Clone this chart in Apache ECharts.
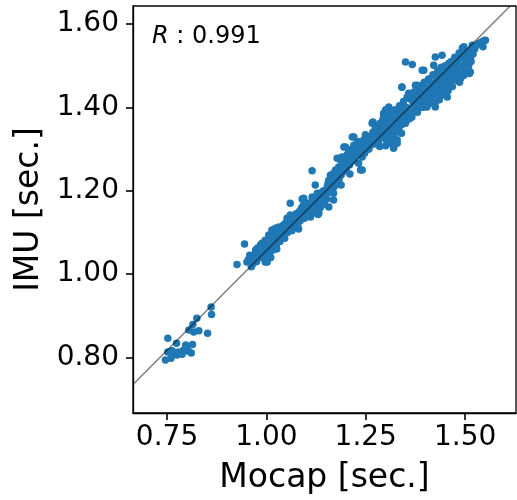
<!DOCTYPE html>
<html lang="en">
<head>
    <meta charset="UTF-8">
    <title>IMU vs Mocap</title>
    <script type="text/javascript" src="https://cdn.jsdelivr.net/npm/echarts@6/dist/echarts.min.js"></script>
</head>
<body style="margin:0;">
<div id="chart" style="width:517px;height:500px;"></div>
<script>
    // tick labels
    var xTicks = [0.75, 1.00, 1.25, 1.50];
    var yTicks = [0.80, 1.00, 1.20, 1.40, 1.60];
    var rValue = '0.991';

    // [mocap, imu] pairs
    var lowCluster = [
        [0.861, 0.921], [0.862, 0.903], [0.825, 0.894], [0.815, 0.879], [0.805, 0.866], [0.817, 0.861],
        [0.830, 0.864], [0.852, 0.858], [0.752, 0.846], [0.774, 0.834], [0.797, 0.830], [0.814, 0.831],
        [0.752, 0.813], [0.763, 0.816], [0.779, 0.813], [0.792, 0.818], [0.804, 0.815], [0.811, 0.811],
        [0.746, 0.794], [0.760, 0.798], [0.775, 0.806], [0.788, 0.808], [0.768, 0.811], [0.799, 0.822]
    ];
    var midCluster = [
        [0.926, 1.023], [0.945, 1.072], [0.951, 1.029], [0.960, 1.038], [0.964, 1.022], [0.966, 1.026],
        [0.972, 1.050], [0.977, 1.062], [0.985, 1.070], [0.989, 1.074], [0.997, 1.081], [0.997, 1.029],
        [0.955, 1.035], [0.958, 1.045], [0.968, 1.033], [0.970, 1.042], [0.975, 1.030], [0.980, 1.048],
        [0.982, 1.056], [0.987, 1.040], [0.990, 1.052], [0.993, 1.063], [0.995, 1.045], [0.962, 1.018],
        [0.978, 1.040], [0.999, 1.070], [0.986, 1.060], [0.973, 1.058],
        [1.002, 1.029], [1.006, 1.094], [1.014, 1.106], [1.018, 1.098], [1.023, 1.110], [1.031, 1.113],
        [1.039, 1.101], [1.043, 1.118], [1.052, 1.134], [1.060, 1.142], [1.065, 1.130], [1.060, 1.170],
        [1.003, 1.060], [1.005, 1.075], [1.008, 1.050], [1.010, 1.082], [1.012, 1.066], [1.015, 1.088],
        [1.017, 1.058], [1.020, 1.076], [1.022, 1.092], [1.025, 1.070], [1.027, 1.100], [1.029, 1.084],
        [1.032, 1.096], [1.034, 1.078], [1.036, 1.106], [1.038, 1.090], [1.041, 1.110], [1.044, 1.098],
        [1.046, 1.086], [1.048, 1.122], [1.050, 1.108], [1.053, 1.100], [1.055, 1.118], [1.057, 1.128],
        [1.059, 1.110], [1.062, 1.122], [1.064, 1.104], [1.067, 1.138], [1.069, 1.118], [1.011, 1.040],
        [1.026, 1.060],
        [1.073, 1.113], [1.077, 1.125], [1.086, 1.142], [1.094, 1.149], [1.098, 1.153], [1.111, 1.142],
        [1.116, 1.146], [1.123, 1.166], [1.132, 1.166], [1.090, 1.180], [1.157, 1.161], [1.115, 1.185],
        [1.130, 1.143], [1.111, 1.137], [1.115, 1.248], [1.094, 1.182], [1.123, 1.214], [1.128, 1.194],
        [1.140, 1.197], [1.148, 1.189], [1.153, 1.209], [1.132, 1.146], [1.111, 1.154], [1.123, 1.161],
        [1.072, 1.130], [1.075, 1.145], [1.079, 1.118], [1.081, 1.136], [1.083, 1.150], [1.085, 1.128],
        [1.088, 1.158], [1.091, 1.138], [1.093, 1.165], [1.096, 1.134], [1.100, 1.160], [1.102, 1.146],
        [1.104, 1.170], [1.106, 1.152], [1.108, 1.162], [1.113, 1.172], [1.118, 1.158], [1.120, 1.178],
        [1.125, 1.150], [1.127, 1.176], [1.130, 1.186], [1.134, 1.178], [1.136, 1.160], [1.138, 1.188],
        [1.142, 1.176], [1.144, 1.200], [1.146, 1.168], [1.150, 1.196], [1.152, 1.180], [1.155, 1.218],
        [1.158, 1.200], [1.081, 1.108]
    ];
    var highCluster = [
        [1.157, 1.225], [1.161, 1.237], [1.165, 1.218], [1.169, 1.242], [1.174, 1.250], [1.178, 1.233],
        [1.182, 1.257], [1.186, 1.274], [1.190, 1.281], [1.195, 1.305], [1.199, 1.266], [1.203, 1.286],
        [1.211, 1.298], [1.216, 1.329], [1.220, 1.309], [1.228, 1.302], [1.232, 1.266], [1.237, 1.250],
        [1.241, 1.281], [1.245, 1.322], [1.249, 1.334], [1.253, 1.298], [1.169, 1.178], [1.169, 1.194],
        [1.178, 1.278], [1.199, 1.305], [1.220, 1.329], [1.241, 1.250],
        [1.160, 1.210], [1.163, 1.196], [1.167, 1.228], [1.171, 1.210], [1.173, 1.232], [1.176, 1.220],
        [1.180, 1.244], [1.183, 1.228], [1.185, 1.250], [1.188, 1.238], [1.192, 1.262], [1.194, 1.246],
        [1.197, 1.276], [1.201, 1.252], [1.205, 1.270], [1.207, 1.295], [1.209, 1.262], [1.213, 1.282],
        [1.215, 1.270], [1.218, 1.294], [1.222, 1.280], [1.224, 1.300], [1.226, 1.286], [1.230, 1.318],
        [1.234, 1.292], [1.236, 1.310], [1.239, 1.296], [1.243, 1.306], [1.247, 1.290], [1.251, 1.312],
        [1.255, 1.320], [1.258, 1.300], [1.210, 1.240], [1.188, 1.214],
        [1.261, 1.309], [1.270, 1.329], [1.278, 1.338], [1.291, 1.329], [1.304, 1.334], [1.312, 1.314],
        [1.320, 1.305], [1.329, 1.322], [1.266, 1.362], [1.295, 1.386], [1.308, 1.401], [1.341, 1.449],
        [1.358, 1.434], [1.337, 1.393], [1.346, 1.369], [1.300, 1.394], [1.295, 1.381], [1.268, 1.365],
        [1.329, 1.314], [1.320, 1.302], [1.341, 1.448],
        [1.263, 1.330], [1.265, 1.318], [1.268, 1.340], [1.272, 1.312], [1.274, 1.350], [1.276, 1.326],
        [1.280, 1.356], [1.282, 1.318], [1.284, 1.340], [1.286, 1.362], [1.288, 1.330], [1.290, 1.348],
        [1.293, 1.370], [1.296, 1.338], [1.298, 1.356], [1.301, 1.322], [1.303, 1.366], [1.306, 1.346],
        [1.309, 1.378], [1.311, 1.338], [1.313, 1.360], [1.315, 1.388], [1.317, 1.330], [1.319, 1.372],
        [1.322, 1.352], [1.324, 1.394], [1.326, 1.340], [1.328, 1.366], [1.331, 1.382], [1.333, 1.350],
        [1.335, 1.404], [1.338, 1.372], [1.340, 1.358], [1.343, 1.390], [1.345, 1.414], [1.348, 1.380],
        [1.350, 1.362], [1.352, 1.400], [1.354, 1.424], [1.356, 1.386], [1.359, 1.372], [1.285, 1.306],
        [1.300, 1.308], [1.318, 1.318], [1.340, 1.338], [1.350, 1.509]
    ];
    var topCluster = [
        [1.367, 1.503], [1.375, 1.453], [1.379, 1.401], [1.392, 1.489], [1.413, 1.410], [1.425, 1.401],
        [1.434, 1.425], [1.367, 1.386], [1.404, 1.401], [1.413, 1.417], [1.450, 1.440], [1.396, 1.489],
        [1.425, 1.521], [1.442, 1.525], [1.421, 1.501], [1.455, 1.470], [1.438, 1.462], [1.421, 1.458],
        [1.404, 1.446], [1.379, 1.453], [1.371, 1.437], [1.388, 1.425], [1.413, 1.429], [1.446, 1.446],
        [1.425, 1.413], [1.455, 1.425],
        [1.362, 1.420], [1.365, 1.398], [1.369, 1.412], [1.372, 1.430], [1.374, 1.392], [1.377, 1.418],
        [1.381, 1.440], [1.383, 1.408], [1.385, 1.428], [1.387, 1.452], [1.390, 1.414], [1.393, 1.436],
        [1.395, 1.400], [1.397, 1.460], [1.399, 1.424], [1.402, 1.444], [1.406, 1.430], [1.408, 1.468],
        [1.410, 1.446], [1.412, 1.420], [1.415, 1.456], [1.417, 1.438], [1.419, 1.478], [1.422, 1.444],
        [1.424, 1.430], [1.427, 1.470], [1.429, 1.452], [1.431, 1.488], [1.433, 1.440], [1.436, 1.476],
        [1.438, 1.430], [1.440, 1.496], [1.443, 1.458], [1.445, 1.480], [1.448, 1.466], [1.450, 1.500],
        [1.452, 1.452], [1.454, 1.486], [1.457, 1.468], [1.459, 1.506], [1.366, 1.376], [1.380, 1.388],
        [1.392, 1.400], [1.400, 1.410], [1.418, 1.412], [1.435, 1.418], [1.446, 1.430],
        [1.493, 1.542], [1.518, 1.542], [1.543, 1.557], [1.551, 1.561], [1.513, 1.518], [1.509, 1.501],
        [1.513, 1.485], [1.511, 1.481], [1.463, 1.494], [1.476, 1.485], [1.484, 1.477], [1.497, 1.477],
        [1.463, 1.453], [1.480, 1.465], [1.497, 1.545], [1.518, 1.549],
        [1.462, 1.476], [1.465, 1.510], [1.467, 1.488], [1.470, 1.466], [1.472, 1.500], [1.474, 1.520],
        [1.477, 1.496], [1.479, 1.480], [1.482, 1.512], [1.485, 1.530], [1.487, 1.494], [1.489, 1.470],
        [1.491, 1.520], [1.494, 1.500], [1.496, 1.530], [1.499, 1.490], [1.501, 1.512], [1.503, 1.536],
        [1.506, 1.520], [1.508, 1.490], [1.511, 1.530], [1.515, 1.510], [1.520, 1.528], [1.524, 1.540],
        [1.528, 1.548], [1.533, 1.552], [1.538, 1.555], [1.545, 1.545], [1.548, 1.560], [1.468, 1.450],
        [1.486, 1.460], [1.457, 1.440]
    ];
    // fitted line end points
    var fitLine = [[0.6644, 0.7352], [1.6133, 1.6432]];

    var points = lowCluster.concat(midCluster, highCluster, topCluster);
    var font = 'DejaVu Sans';

    var option = {
        animation: false,
        grid: {
            left: 133, right: 1, top: 6, bottom: 87,
            show: true, borderColor: '#000', borderWidth: 1.3, backgroundColor: 'transparent'
        },
        xAxis: {
            type: 'value', min: 0.6644, max: 1.628,
            name: 'Mocap [sec.]', nameLocation: 'middle', nameGap: 49,
            nameTextStyle: {fontSize: 33, color: '#000', fontFamily: font},
            axisLine: {show: true, lineStyle: {color: '#000', width: 1.3}},
            axisTick: {show: true, customValues: xTicks, length: 7, lineStyle: {color: '#000', width: 1.6}},
            axisLabel: {
                customValues: xTicks, margin: 11, fontSize: 28, color: '#000', fontFamily: font,
                formatter: function (v) { return v.toFixed(2); }
            },
            splitLine: {show: false}
        },
        yAxis: {
            type: 'value', min: 0.667, max: 1.643,
            name: 'IMU [sec.]', nameLocation: 'middle', nameGap: 86,
            nameTextStyle: {fontSize: 33, color: '#000', fontFamily: font},
            axisLine: {show: true, lineStyle: {color: '#000', width: 1.3}},
            axisTick: {show: true, customValues: yTicks, length: 7, lineStyle: {color: '#000', width: 1.6}},
            axisLabel: {
                customValues: yTicks, margin: 14, fontSize: 28, color: '#000', fontFamily: font,
                formatter: function (v) { return v.toFixed(2); }
            },
            splitLine: {show: false}
        },
        graphic: [{
            type: 'text', left: 152, top: 25,
            style: {
                text: '{i|R} : ' + rValue,
                font: '24px "DejaVu Sans"', fill: '#000',
                rich: {i: {fontStyle: 'italic', fontSize: 24, fontFamily: font, fill: '#000'}}
            }
        }],
        series: [
            {
                type: 'scatter',
                data: points,
                symbolSize: 7.5,
                itemStyle: {color: '#1f77b4', opacity: 1},
                z: 2
            },
            {
                type: 'line',
                data: fitLine,
                showSymbol: false,
                silent: true,
                lineStyle: {color: 'rgba(0,0,0,0.5)', width: 1.5},
                z: 3
            }
        ]
    };

    var myChart = echarts.init(document.getElementById('chart'));
    myChart.setOption(option);
</script>
</body>
</html>
